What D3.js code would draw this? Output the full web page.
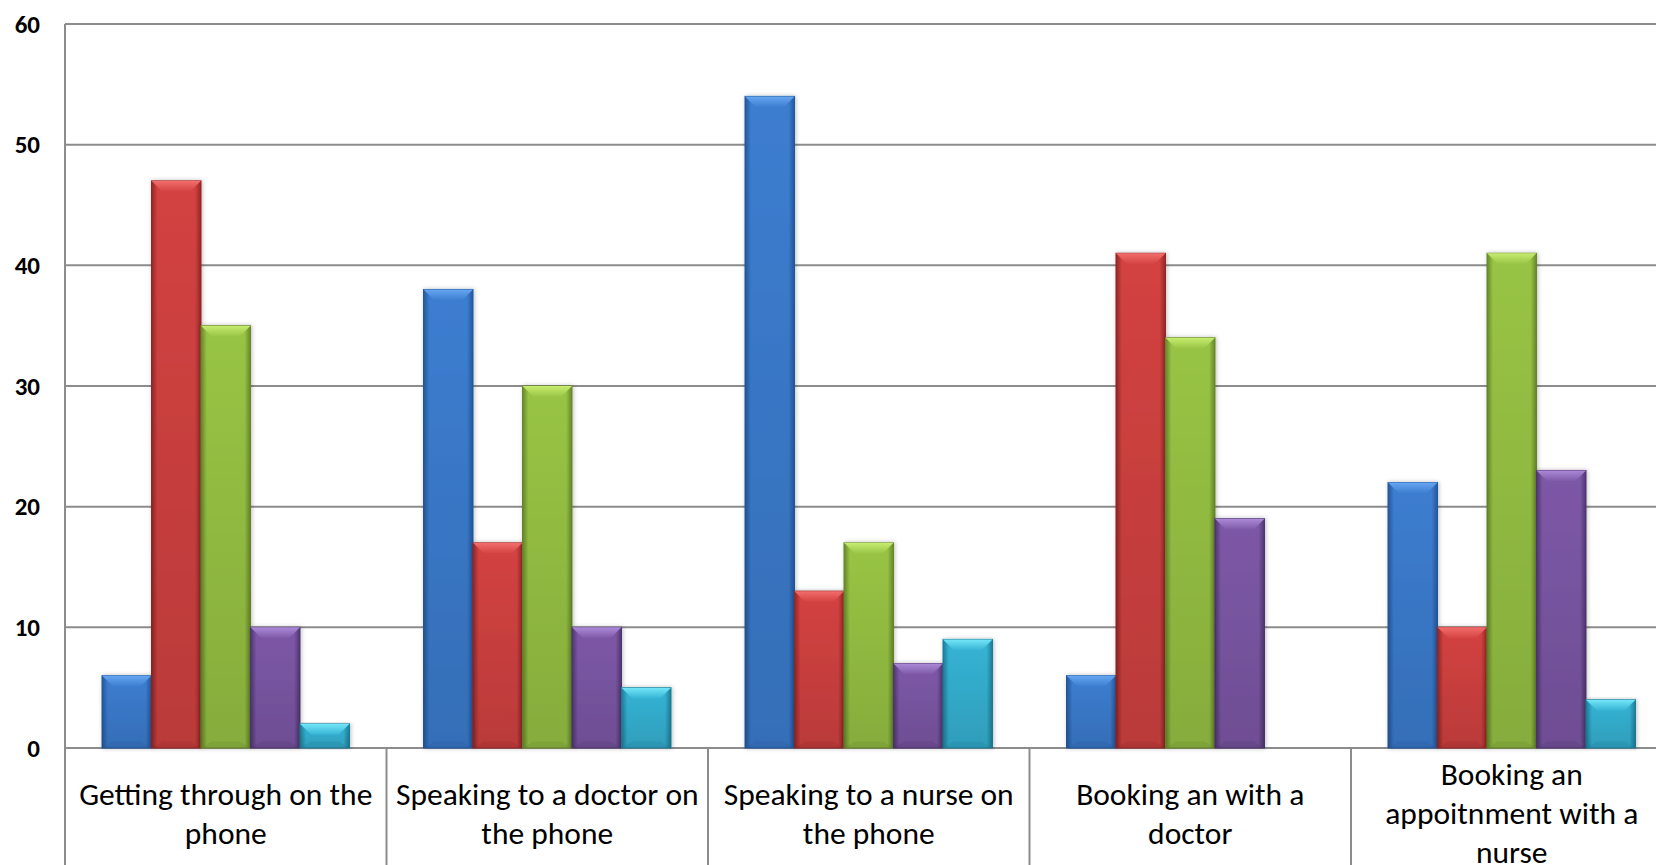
<!DOCTYPE html>
<html><head><meta charset="utf-8">
<script src="https://cdn.jsdelivr.net/npm/d3@7"></script>
<style>html,body{margin:0;padding:0;background:#fff;overflow:hidden}</style>
</head><body>
<svg id="c" width="1656" height="865"></svg>
<script>
const categories = [
  ["Getting through on the","phone"],
  ["Speaking to a doctor on","the phone"],
  ["Speaking to a nurse on","the phone"],
  ["Booking an with a","doctor"],
  ["Booking an","appoitnment with a","nurse"]
];
const seriesNames = ["S1","S2","S3","S4","S5"];
const values = [
  [6, 38, 54, 6, 22],
  [47, 17, 13, 41, 10],
  [35, 30, 17, 34, 41],
  [10, 10, 7, 19, 23],
  [2, 5, 9, 0, 4]
];
const yTicks = [0,10,20,30,40,50,60];
const colors = [
  {main:"#3c7dd0", light:"#66a6f0", dark:"#24589d"},
  {main:"#d34241", light:"#f26e6c", dark:"#932626"},
  {main:"#98c444", light:"#c6ec70", dark:"#66872a"},
  {main:"#7d58a7", light:"#ac8ad8", dark:"#4f3571"},
  {main:"#35b3d4", light:"#74e6f8", dark:"#1f7d97"}
];

(function(){
const svg = d3.select("#c");
const plotLeft = 65, plotTop = 24, plotBottom = 748, catW = 321.5;
const y = d3.scaleLinear().domain([0,60]).range([plotBottom, plotTop]);
const x0 = d3.scaleBand().domain(d3.range(categories.length)).range([plotLeft, plotLeft + catW*categories.length]).padding(0);
const x1 = d3.scaleBand().domain(d3.range(seriesNames.length)).range([37, catW-37]).padding(0);

const defs = svg.append("defs");
colors.forEach((c,i)=>{
  const g = defs.append("linearGradient").attr("id","g"+i).attr("x1","0").attr("x2","1").attr("y1","0").attr("y2","0");
  g.append("stop").attr("offset","0").attr("stop-color",c.dark);
  g.append("stop").attr("offset","0.12").attr("stop-color",c.main);
  g.append("stop").attr("offset","0.88").attr("stop-color",c.main);
  g.append("stop").attr("offset","1").attr("stop-color",c.dark);
  const t = defs.append("linearGradient").attr("id","t"+i).attr("x1","0").attr("x2","0").attr("y1","0").attr("y2","1");
  t.append("stop").attr("offset","0").attr("stop-color",c.light);
  t.append("stop").attr("offset","1").attr("stop-color",c.main);
  const v = defs.append("linearGradient").attr("id","v"+i).attr("x1","0").attr("x2","0").attr("y1","0").attr("y2","1");
  v.append("stop").attr("offset","0").attr("stop-color","#000").attr("stop-opacity",0);
  v.append("stop").attr("offset","1").attr("stop-color","#000").attr("stop-opacity",0.12);
});
const f = defs.append("filter").attr("id","sh").attr("x","-20%").attr("y","-5%").attr("width","140%").attr("height","110%");
f.append("feDropShadow").attr("dx",1).attr("dy",0).attr("stdDeviation",2).attr("flood-color","#000").attr("flood-opacity",0.25);

svg.append("g").selectAll("line").data(yTicks).join("line")
  .attr("x1", plotLeft).attr("x2", 1656)
  .attr("y1", d=>y(d)).attr("y2", d=>y(d))
  .attr("stroke","#8c8c8c").attr("stroke-width",2);

svg.append("line").attr("x1",plotLeft).attr("x2",plotLeft).attr("y1",plotTop).attr("y2",865).attr("stroke","#8c8c8c").attr("stroke-width",2);
svg.append("g").selectAll("line").data(d3.range(1,categories.length+1)).join("line")
  .attr("x1", d=>x0(d-1)+catW).attr("x2", d=>x0(d-1)+catW)
  .attr("y1", plotBottom).attr("y2", 865)
  .attr("stroke","#8c8c8c").attr("stroke-width",2);

svg.append("g").selectAll("text").data(yTicks).join("text")
  .attr("x", 40).attr("y", d=>y(d)+8.5)
  .attr("text-anchor","end")
  .attr("font-family","Carlito, Calibri, Lato, 'Open Sans', sans-serif")
  .attr("font-weight","bold").attr("font-size",25).attr("fill","#000")
  .text(d=>d);

const bars = svg.append("g");
values.forEach((ser, si)=>{
  ser.forEach((v, ci)=>{
    if (v <= 0) return;
    const bx = x0(ci) + x1(si), bw = x1.bandwidth();
    const by = y(v), bh = plotBottom - by;
    const g = bars.append("g").attr("filter","url(#sh)");
    g.append("rect").attr("x",bx).attr("y",by).attr("width",bw).attr("height",bh)
      .attr("fill","url(#g"+si+")").attr("stroke",colors[si].dark).attr("stroke-width",1);
    g.append("rect").attr("x",bx).attr("y",by).attr("width",bw).attr("height",bh)
      .attr("fill","url(#v"+si+")");
    const b = Math.min(11, bh/2);
    g.append("path").attr("d",`M${bx},${by}L${bx+bw},${by}L${bx+bw-b},${by+b}L${bx+b},${by+b}Z`)
      .attr("fill","url(#t"+si+")");
    g.append("path").attr("d",`M${bx},${plotBottom}L${bx+bw},${plotBottom}L${bx+bw-b},${plotBottom-b*0.6}L${bx+b},${plotBottom-b*0.6}Z`)
      .attr("fill",colors[si].dark).attr("opacity",0.25);
  });
});

const lab = svg.append("g");
categories.forEach((lines, ci)=>{
  const cx = x0(ci) + catW/2;
  const n = lines.length;
  const startY = n === 3 ? 785 : 805;
  lines.forEach((t, li)=>{
    lab.append("text").attr("x",cx).attr("y",startY + li*39)
      .attr("text-anchor","middle")
      .attr("font-family","Carlito, Calibri, Lato, 'Open Sans', sans-serif")
      .attr("font-size",31.5).attr("fill","#000").text(t);
  });
});
})();
</script>
</body></html>
